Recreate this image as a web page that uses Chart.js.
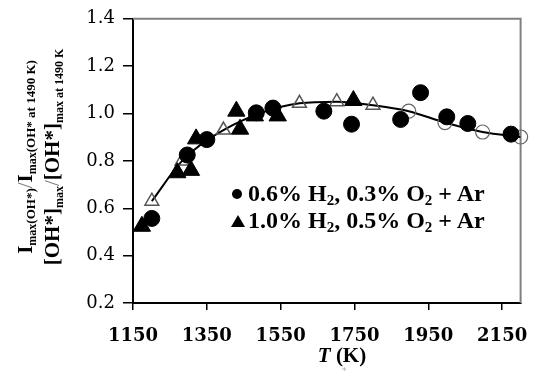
<!DOCTYPE html>
<html>
<head>
<meta charset="utf-8">
<script src="https://cdn.jsdelivr.net/npm/chart.js@4/dist/chart.umd.min.js"></script>
<style>
  html, body { margin: 0; padding: 0; background: #fff; }
  #wrap { position: relative; width: 544px; height: 378px; }
  canvas { position: absolute; left: 0; top: 0; }
  .serif { font-family: "Liberation Serif", "Times New Roman", serif; font-weight: bold; color: #000; }
  #legend { position: absolute; left: 231px; top: 180px; font-size: 24px; line-height: 27px; white-space: nowrap; }
  #legend .row { position: relative; padding-left: 17px; }
  #legend sub { font-size: 15px; vertical-align: -4px; line-height: 0; }
  .dot { position: absolute; left: 1px; top: 9px; width: 10px; height: 10px; border-radius: 50%; background: #000; }
  .tri { position: absolute; left: 0; top: 8px; width: 0; height: 0;
         border-left: 7px solid transparent; border-right: 7px solid transparent; border-bottom: 12px solid #000; }
  #ytitle { position: absolute; left: 39px; top: 157px; width: 260px; transform: translate(-50%, -50%) rotate(-90deg);
            text-align: center; white-space: nowrap; }
  #ytitle .l1, #ytitle .l2 { font-size: 21px; line-height: 27px; }
  #ytitle .s { font-size: 12px; vertical-align: -4px; line-height: 0; }
  #ytitle .m { font-size: 13px; vertical-align: -3px; line-height: 0; }
  #ytitle .sl { color: #777; font-weight: normal; }
  #xtitle { position: absolute; left: 342px; top: 343px; transform: translateX(-50%); font-size: 21px; white-space: nowrap; }
  #star { position: absolute; left: 342px; top: 366px; font-size: 9px; color: #aaa; font-family: "DejaVu Sans", sans-serif; }
</style>
</head>
<body>
<div id="wrap">
  <canvas id="chart" width="544" height="378"></canvas>
  <div id="ytitle" class="serif">
    <div class="l1">I<span class="s">max</span><span class="m">(OH*)</span><span class="sl">/</span>I<span class="s">max</span><span class="m">(OH* at 1490 K)</span></div>
    <div class="l2">[OH*]<span class="s">max</span><span class="sl">/</span>[OH*]<span class="s">max at 1490 K</span></div>
  </div>
  <div id="legend" class="serif">
    <div class="row"><span class="dot"></span>0.6% H<sub>2</sub>, 0.3% O<sub>2</sub> + Ar</div>
    <div class="row"><span class="tri"></span>1.0% H<sub>2</sub>, 0.5% O<sub>2</sub> + Ar</div>
  </div>
  <div id="xtitle" class="serif"><i>T</i> (K)</div>
  <div id="star">*</div>
</div>
<script>
// Axis ticks
const xTicks = [1150, 1350, 1550, 1750, 1950, 2150];
const yTicks = [0.2, 0.4, 0.6, 0.8, 1.0, 1.2, 1.4];

// 0.6% H2, 0.3% O2 + Ar (filled circles)
const lowT = [1201, 1297, 1350, 1484, 1529, 1667, 1742, 1875, 1929, 2000, 2057, 2174];
const lowRatio = [0.557, 0.825, 0.89, 1.003, 1.023, 1.01, 0.955, 0.975, 1.088, 0.986, 0.958, 0.913];

// 1.0% H2, 0.5% O2 + Ar (filled triangles)
const highT = [1174, 1270, 1307, 1321, 1430, 1440, 1480, 1542, 1747];
const highRatio = [0.524, 0.75, 0.76, 0.893, 1.01, 0.934, 0.99, 0.99, 1.055];

// open markers on the model curve
const openTriT = [1201, 1283, 1395, 1601, 1702, 1800];
const openTriRatio = [0.63, 0.80, 0.93, 1.043, 1.05, 1.035];
const openCircT = [1897, 1995, 2097, 2200];
const openCircRatio = [1.01, 0.962, 0.922, 0.901];

function toPoints(xs, ys) {
  return xs.map((x, i) => ({ x: x, y: ys[i] }));
}

const curvePoints = toPoints(openTriT, openTriRatio).concat(toPoints(openCircT, openCircRatio));

// gray frame on top and right of the plot area
const framePlugin = {
  id: 'frame',
  beforeDatasetsDraw(chart) {
    const { ctx, chartArea: a } = chart;
    ctx.save();
    ctx.strokeStyle = '#808080';
    ctx.lineWidth = 2;
    ctx.beginPath();
    ctx.moveTo(a.left, a.top);
    ctx.lineTo(a.right, a.top);
    ctx.lineTo(a.right, a.bottom);
    ctx.stroke();
    ctx.restore();
  }
};

const ctx = document.getElementById('chart').getContext('2d');
new Chart(ctx, {
  type: 'scatter',
  data: {
    datasets: [
      {
        label: '0.6% H2, 0.3% O2 + Ar',
        data: toPoints(lowT, lowRatio),
        pointStyle: 'circle',
        pointRadius: 8,
        backgroundColor: '#000',
        borderColor: '#000'
      },
      {
        label: '1.0% H2, 0.5% O2 + Ar',
        data: toPoints(highT, highRatio),
        pointStyle: 'triangle',
        pointRadius: 10,
        backgroundColor: '#000',
        borderColor: '#000'
      },
      {
        label: 'open triangles',
        data: toPoints(openTriT, openTriRatio),
        pointStyle: 'triangle',
        pointRadius: 8,
        backgroundColor: 'rgba(255,255,255,0)',
        borderColor: '#555',
        borderWidth: 1.5,
        clip: false
      },
      {
        label: 'open circles',
        data: toPoints(openCircT, openCircRatio),
        pointStyle: 'circle',
        pointRadius: 7,
        backgroundColor: 'rgba(255,255,255,0)',
        borderColor: '#666',
        borderWidth: 1.2,
        clip: false
      },
      {
        label: 'model',
        data: curvePoints,
        showLine: true,
        pointRadius: 0,
        borderColor: '#000',
        borderWidth: 2,
        cubicInterpolationMode: 'monotone',
        fill: false
      }
    ]
  },
  options: {
    responsive: false,
    animation: false,
    events: [],
    layout: { padding: { top: 7, right: 17, left: 0, bottom: 0 } },
    plugins: {
      legend: { display: false },
      tooltip: { enabled: false }
    },
    scales: {
      x: {
        type: 'linear',
        min: 1150,
        max: 2200,
        afterBuildTicks: s => { s.ticks = xTicks.map(v => ({ value: v })); },
        afterFit: s => { s.height = 75; },
        grid: { display: true, drawOnChartArea: false, drawTicks: true, tickLength: 7, color: '#000', lineWidth: 1.5 },
        border: { display: true, color: '#000', width: 2 },
        ticks: {
          padding: 16,
          color: '#000',
          maxRotation: 0,
          font: { family: 'DejaVu Serif', size: 18, weight: 'bold' },
          callback: v => String(v)
        }
      },
      y: {
        type: 'linear',
        min: 0.2,
        max: 1.4,
        afterBuildTicks: s => { s.ticks = yTicks.map(v => ({ value: v })); },
        afterFit: s => { s.width = 133; },
        grid: { display: true, drawOnChartArea: false, drawTicks: true, tickLength: 10, color: '#000', lineWidth: 1.5 },
        border: { display: true, color: '#000', width: 2 },
        ticks: {
          padding: 8,
          color: '#000',
          font: { family: 'DejaVu Serif', size: 18 },
          callback: v => v.toFixed(1)
        }
      }
    }
  },
  plugins: [framePlugin]
});
</script>
</body>
</html>
